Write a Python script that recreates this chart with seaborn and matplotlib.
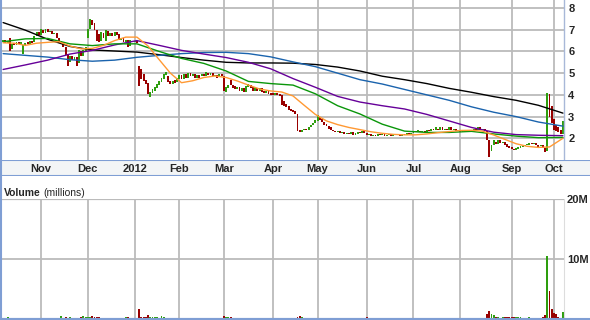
import numpy as np
import pandas as pd
import matplotlib
matplotlib.use("Agg")
import matplotlib.pyplot as plt
from matplotlib.lines import Line2D
import seaborn as sns

sns.set_style("white")
plt.rcParams['font.family'] = ['Liberation Sans', 'DejaVu Sans']

# ---------------- data ----------------
holidays = ["2011-11-24", "2011-12-26", "2012-01-02", "2012-01-16", "2012-02-20",
            "2012-04-06", "2012-05-28", "2012-07-04", "2012-09-03"]
start_date, end_date = "2011-10-07", "2012-10-05"

opens = (
    # Oct 2011
    [6.45, 6.55, 6.40, 6.6, 6.1, 6.4, 6.3, 6.45, 6.35, 5.9, 6.3, 6.45, 6.35, 6.5, 6.45, 6.7, 6.9]
    # Nov
    + [6.75, 7.0, 6.85, 7.05, 6.9, 6.95, 6.8, 6.85, 6.6, 6.4, 6.45, 6.2, 5.9, 5.5, 5.8, 5.6, 5.75, 5.45, 6.0, 5.8, 6.0]
    # Dec
    + [6.6, 7.05, 7.45, 7.3, 7.0, 6.8, 6.5, 6.85, 6.5, 6.95, 6.7, 6.85, 6.7, 6.9, 6.8, 6.55, 6.6, 6.45, 6.55, 6.25, 6.5]
    # Jan 2012
    + [6.45, 6.5, 5.35, 5.2, 4.95, 4.7, 4.55, 3.9, 4.1, 4.2, 4.3, 4.45, 4.6, 4.75, 4.9, 4.85, 4.65, 4.5, 4.7, 4.6]
    # Feb
    + [4.75, 4.9, 4.75, 4.95, 4.8, 5.0, 4.85, 4.95, 4.8, 4.9, 4.85, 4.95, 4.85, 5.0, 4.9, 5.0, 4.85, 4.9, 4.85, 4.95]
    # Mar
    + [4.85, 4.15, 4.3, 4.7, 4.45, 4.4, 4.25, 4.35, 4.2, 4.3, 4.15, 4.35, 4.45, 4.35, 4.2, 4.3, 4.2, 4.3, 4.2, 4.1, 4.2, 4.1]
    # Apr
    + [4.1, 4.0, 4.1, 4.05, 4.0, 3.7, 3.6, 3.5, 3.35, 3.3, 3.25, 3.1, 2.4, 2.3, 2.4, 2.45, 2.4, 2.5, 2.6, 2.7]
    # May
    + [2.8, 3.0, 2.9, 2.75, 2.65, 2.55, 2.5, 2.4, 2.35, 2.3, 2.35, 2.25, 2.3, 2.2, 2.25, 2.2, 2.3, 2.15, 2.2, 2.3, 2.25, 2.35]
    # Jun
    + [2.25, 2.15, 2.2, 2.1, 2.15, 2.1, 2.2, 2.15, 2.2, 2.1, 2.15, 2.2, 2.1, 2.2, 2.15, 2.2, 2.1, 2.2, 2.15, 2.25, 2.2]
    # Jul
    + [2.25, 2.35, 2.3, 2.35, 2.3, 2.35, 2.3, 2.4, 2.35, 2.45, 2.4, 2.45, 2.4, 2.5, 2.4, 2.45, 2.4, 2.5, 2.4, 2.45, 2.35]
    # Aug
    + [2.35, 2.3, 2.4, 2.35, 2.4, 2.3, 2.4, 2.45, 2.4, 2.5, 2.4, 2.45, 2.35, 1.9, 1.4, 1.7, 1.85, 1.75, 1.9, 1.8, 1.85, 1.75, 1.65]
    # Sep
    + [1.6, 1.5, 1.45, 1.5, 1.55, 1.6, 1.65, 1.7, 1.7, 1.8, 1.75, 1.8, 1.7, 1.65, 1.7, 1.55, 1.4, 4.05, 3.5]
    # Oct 2012
    + [2.9, 2.6, 2.5, 2.4, 2.2]
)
closes = (
    [6.55, 6.40, 6.5, 6.0, 6.35, 6.3, 6.45, 6.35, 6.45, 6.3, 6.4, 6.35, 6.5, 6.4, 6.7, 6.9, 6.75]
    + [7.05, 6.85, 7.05, 6.9, 6.95, 6.8, 6.85, 6.6, 6.4, 6.5, 6.2, 5.85, 5.35, 5.8, 5.6, 5.75, 5.35, 6.05, 5.8, 6.05, 6.2]
    + [7.05, 7.5, 7.2, 7.0, 6.5, 6.45, 6.9, 6.6, 7.0, 6.7, 6.85, 6.7, 6.9, 6.75, 6.55, 6.6, 6.45, 6.55, 6.2, 6.55, 6.45]
    + [6.5, 6.4, 4.4, 4.75, 4.65, 4.5, 4.05, 4.15, 4.25, 4.35, 4.5, 4.65, 4.8, 4.95, 5.05, 4.6, 4.5, 4.65, 4.55, 4.8]
    + [4.9, 4.75, 4.95, 4.8, 5.0, 4.85, 4.95, 4.8, 4.9, 4.8, 4.95, 4.85, 5.05, 4.9, 5.0, 4.85, 4.9, 4.8, 4.95, 4.85]
    + [4.2, 4.35, 4.45, 4.45, 4.3, 4.25, 4.35, 4.2, 4.3, 4.15, 4.4, 4.5, 4.3, 4.2, 4.35, 4.2, 4.3, 4.15, 4.1, 4.2, 4.05, 4.0]
    + [4.0, 4.1, 4.0, 3.95, 3.55, 3.5, 3.45, 3.3, 3.25, 3.2, 3.1, 2.35, 2.3, 2.4, 2.45, 2.4, 2.5, 2.6, 2.7, 2.85]
    + [3.05, 2.85, 2.75, 2.6, 2.55, 2.45, 2.4, 2.35, 2.3, 2.35, 2.25, 2.3, 2.2, 2.25, 2.2, 2.3, 2.15, 2.25, 2.3, 2.25, 2.35, 2.25]
    + [2.15, 2.2, 2.1, 2.15, 2.1, 2.2, 2.15, 2.2, 2.1, 2.15, 2.2, 2.1, 2.2, 2.15, 2.2, 2.1, 2.2, 2.15, 2.25, 2.2, 2.25]
    + [2.35, 2.3, 2.4, 2.3, 2.35, 2.3, 2.4, 2.35, 2.45, 2.4, 2.5, 2.4, 2.5, 2.4, 2.45, 2.4, 2.5, 2.4, 2.45, 2.35, 2.4]
    + [2.3, 2.4, 2.35, 2.4, 2.3, 2.4, 2.45, 2.35, 2.5, 2.4, 2.45, 2.35, 1.9, 1.15, 1.7, 1.9, 1.75, 1.9, 1.8, 1.85, 1.7, 1.6, 1.55]
    + [1.5, 1.45, 1.55, 1.6, 1.65, 1.65, 1.7, 1.75, 1.8, 1.75, 1.8, 1.7, 1.6, 1.7, 1.55, 1.35, 4.1, 3.0, 2.7]
    + [2.4, 2.35, 2.3, 2.2, 2.8]
)
volume_m = (
    [0.1, 0.05, 0.4, 0.2, 0.05, 0.05, 0.05, 0.05, 0.05, 0.15, 0.05, 0.15, 0.05, 0.05, 0.05, 0.1, 0.25]
    + [0.2, 0.05, 0.05, 0.05, 0.05, 0.2, 0.05, 0.05, 0.05, 0.45, 0.05, 0.3, 0.25, 0.3, 0.05, 0.2, 0.05, 0.05, 0.35, 0.5, 0.3]
    + [0.4, 0.3, 0.5, 0.4, 0.4, 0.3, 0.1, 0.05, 0.05, 0.05, 0.25, 0.2, 0.05, 0.05, 0.05, 0.05, 0.05, 0.3, 0.3, 0.25, 0.05]
    + [0.05, 0.1, 1.7, 0.4, 0.3, 0.3, 0.6, 0.35, 0.3, 0.35, 0.3, 0.2, 0.5, 0.3, 0.25, 0.2, 0.05, 0.05, 0.05, 0.15]
    + [0.05, 0.05, 0.1, 0.05, 0.05, 0.05, 0.05, 0.15, 0.05, 0.15, 0.05, 0.05, 0.15, 0.05, 0.1, 0.05, 0.05, 0.05, 0.05, 0.05]
    + [0.45, 0.3, 0.3, 0.3, 0.2, 0.05, 0.05, 0.05, 0.15, 0.05, 0.05, 0.05, 0.15, 0.05, 0.05, 0.05, 0.05, 0.05, 0.05, 0.05, 0.05, 0.15]
    + [0.05, 0.05, 0.05, 0.05, 0.05, 0.05, 0.05, 0.05, 0.25, 0.05, 0.05, 0.3, 0.55, 0.3, 0.15, 0.05, 0.05, 0.05, 0.05, 0.05]
    + [0.25, 0.05, 0.05, 0.05, 0.05, 0.05, 0.05, 0.05, 0.05, 0.05, 0.15, 0.05, 0.05, 0.05, 0.2, 0.05, 0.05, 0.15, 0.05, 0.2, 0.25, 0.25]
    + [0.4, 0.15, 0.05, 0.05, 0.05, 0.05, 0.05, 0.05, 0.05, 0.05, 0.05, 0.05, 0.05, 0.05, 0.05, 0.05, 0.05, 0.05, 0.05, 0.05, 0.05]
    + [0.05, 0.05, 0.05, 0.05, 0.05, 0.05, 0.05, 0.05, 0.05, 0.05, 0.05, 0.05, 0.05, 0.05, 0.05, 0.05, 0.05, 0.05, 0.05, 0.05, 0.05]
    + [0.05, 0.05, 0.05, 0.05, 0.05, 0.05, 0.05, 0.05, 0.05, 0.2, 0.1, 0.05, 0.8, 1.4, 0.8, 0.7, 0.4, 0.3, 0.05, 0.3, 0.3, 0.3, 0.3]
    + [0.3, 0.3, 0.3, 0.3, 0.3, 0.05, 0.05, 0.05, 0.3, 0.05, 0.05, 0.05, 0.05, 0.05, 0.3, 0.6, 10.5, 4.7, 1.7]
    + [1.05, 0.8, 0.4, 0.25, 1.2]
)

# moving averages (trading-day number in window, value)
ma_days = [0, 10, 20, 30, 40, 50, 60, 70, 80, 90, 100, 110, 120, 130, 140, 150,
           160, 170, 180, 190, 200, 210, 220, 230, 240, 251]
ma200 = [7.33, 6.98, 6.56, 6.23, 6.07, 6.02, 5.97, 5.85, 5.72, 5.6, 5.5, 5.47, 5.47, 5.46,
         5.4, 5.28, 5.1, 4.86, 4.7, 4.52, 4.3, 4.12, 3.92, 3.75, 3.52, 3.16]
ma150 = [5.9, 5.82, 5.74, 5.62, 5.55, 5.6, 5.73, 5.82, 5.9, 5.95, 5.96, 5.9, 5.75, 5.52,
         5.3, 5.0, 4.7, 4.5, 4.25, 4.0, 3.75, 3.45, 3.2, 3.0, 2.75, 2.56]
ma100 = [5.17, 5.38, 5.6, 5.88, 6.05, 6.3, 6.5, 6.28, 6.05, 5.88, 5.72, 5.5, 5.2, 4.75,
         4.35, 3.93, 3.67, 3.5, 3.35, 3.1, 2.8, 2.5, 2.28, 2.17, 2.14, 2.12]
ma50 = [6.45, 6.58, 6.6, 6.35, 6.27, 6.35, 6.35, 6.0, 5.68, 5.45, 5.1, 4.62, 4.52, 4.45,
        4.05, 3.5, 3.12, 2.65, 2.33, 2.27, 2.27, 2.32, 2.2, 2.1, 2.03, 2.04]
ma20_days = list(range(0, 250, 5)) + [251]
ma20 = [6.4, 6.38, 6.28, 6.38, 6.42, 6.45, 6.25, 6.12, 6.14, 6.28, 6.5, 6.66, 6.66, 6.25,
        5.62, 5.0, 4.56, 4.65, 4.8, 4.87, 4.8, 4.64, 4.45, 4.27, 4.18, 4.13, 3.95, 3.52,
        3.1, 2.8, 2.63, 2.5, 2.4, 2.3, 2.23, 2.18, 2.16, 2.16, 2.2, 2.26, 2.31, 2.36, 2.37,
        2.33, 2.15, 1.95, 1.75, 1.63, 1.58, 1.6, 2.0]

price_ticks = [2, 3, 4, 5, 6, 7, 8]
volume_ticks = [10, 20]
volume_labels = ["10M", "20M"]

# ---------------- build frames ----------------
dates = pd.bdate_range(start_date, end_date, freq="C", holidays=holidays)
df = pd.DataFrame({"date": dates[:len(closes)], "open": opens, "close": closes,
                   "volume": volume_m})
df["day"] = np.arange(len(df))
df["up"] = df["close"] >= df["open"]

month_start = df.groupby([df.date.dt.year, df.date.dt.month])["day"].min().values[1:]
month_names = [("2012" if d.month == 1 else d.strftime("%b")) for d in df.date.iloc[month_start]]

UP, DOWN = "#2e9e0e", "#990000"
GRID = "#bbbbbb"
BLUE_BORDER = "#7f9ed4"

W, H = 590, 320
fig = plt.figure(figsize=(W / 100, H / 100), dpi=100)

def fx(px):
    return px / W

def fy(py):
    return 1 - py / H

x_lo, x_hi = -0.5, len(df) - 0.5

# price panel
ax1 = fig.add_axes([fx(2), fy(160), fx(562), 160 / H])
ax1.set_xlim(x_lo, x_hi)
ax1.set_ylim(1.0, 8.37)
for m in month_start:
    ax1.axvline(m, color=GRID, lw=1.3, zorder=0)
for t in price_ticks:
    ax1.axhline(t, color=GRID, lw=1.3, zorder=0)

lo = np.minimum(df.open, df.close)
hgt = np.maximum(np.abs(df.close - df.open), 0.05)
cols = np.where(df.up, UP, DOWN)
ax1.bar(df.day, hgt, bottom=lo, width=0.85, color=cols, linewidth=0, zorder=2)

ma_styles = [(ma200, ma_days, "#000000"), (ma150, ma_days, "#1a63ad"),
             (ma100, ma_days, "#660099"), (ma50, ma_days, "#0a960a"),
             (ma20, ma20_days, "#ff9933")]
for vals, days, col in ma_styles:
    sns.lineplot(x=days, y=vals, color=col, linewidth=1.0, ax=ax1, zorder=3,
                 estimator=None, sort=False)

ax1.yaxis.tick_right()
ax1.set_yticks(price_ticks)
ax1.set_yticklabels([str(t) for t in price_ticks], fontweight="bold", fontsize=8)
ax1.tick_params(axis="y", length=0, pad=3)
ax1.set_xticks([])
for s in ["top", "left", "bottom"]:
    ax1.spines[s].set_visible(False)
ax1.spines["right"].set_color("#a8b8d8")
ax1.spines["right"].set_linewidth(1.0)
ax1.set_xlabel("")
ax1.set_ylabel("")

# date band
axb = fig.add_axes([0, fy(176), 1, 16 / H])
axb.set_xlim(x_lo - 2 / 2.23, x_lo - 2 / 2.23 + W / 2.23)
axb.set_ylim(0, 1)
axb.set_facecolor("#f3f5f6")
axb.set_xticks([])
axb.set_yticks([])
for s in axb.spines.values():
    s.set_visible(False)
axb.axhline(1, color=BLUE_BORDER, lw=1.5)
axb.axhline(0, color=BLUE_BORDER, lw=1.5)
for m, name in zip(month_start, month_names):
    axb.text(m, 0.45, name, ha="center", va="center", fontsize=8, fontweight="bold")

# volume panel
ax2 = fig.add_axes([fx(2), fy(319), fx(562), 120 / H])
ax2.set_xlim(x_lo, x_hi)
ax2.set_ylim(0, 20)
for m in month_start:
    ax2.axvline(m, color=GRID, lw=1.3, zorder=0)
ax2.axhline(10, color=GRID, lw=1.3, zorder=0)
ax2.axhline(20, color=GRID, lw=1.6, zorder=0)
ax2.bar(df.day, df.volume, width=0.85, color=cols, linewidth=0, zorder=2)
ax2.yaxis.tick_right()
ax2.set_yticks(volume_ticks)
ax2.set_yticklabels(volume_labels, fontweight="bold", fontsize=8)
ax2.tick_params(axis="y", length=0, pad=2)
ax2.set_xticks([])
for s in ["top", "left"]:
    ax2.spines[s].set_visible(False)
ax2.spines["bottom"].set_color(BLUE_BORDER)
ax2.spines["bottom"].set_linewidth(1.5)
ax2.spines["right"].set_color("#dddddd")

# volume title
t1 = fig.text(fx(4), fy(196), "Volume", fontsize=7.5, fontweight="bold", va="baseline")
fig.canvas.draw()
bb = t1.get_window_extent()
fig.text(bb.x1 / W + fx(2.5), fy(196), "(millions)", fontsize=7.5, va="baseline")

# outer left / bottom border
fig.add_artist(Line2D([fx(0.7), fx(0.7)], [0, 1], color=BLUE_BORDER, lw=1.5))
fig.add_artist(Line2D([0, 1], [fy(319.3), fy(319.3)], color=BLUE_BORDER, lw=1.5))

fig.savefig("out.png", dpi=100)
